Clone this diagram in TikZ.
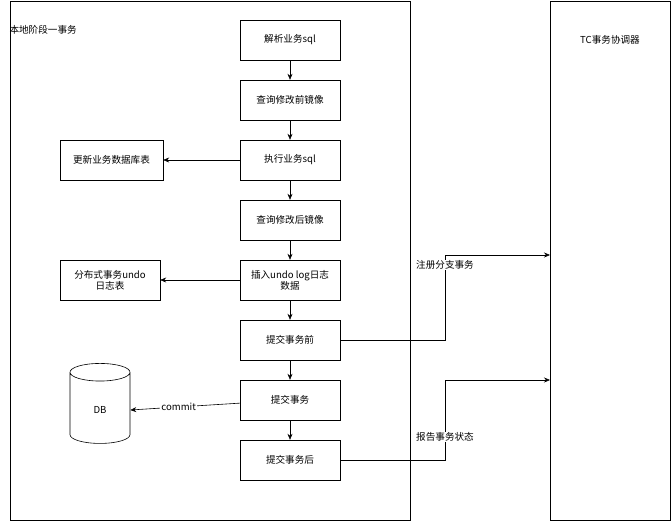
\documentclass[tikz,border=0pt]{standalone}
\usepackage{fontspec}
\setmainfont{Noto Sans CJK SC}
\usetikzlibrary{shapes.geometric,arrows.meta}
\begin{document}
\begin{tikzpicture}[x=1pt,y=-1pt,font=\fontsize{9.6}{11}\selectfont,
  box/.style={draw,minimum width=100pt,minimum height=40pt,align=center,inner sep=1pt},
  arr/.style={-{Stealth[length=6pt,width=5pt]},line width=0.6pt},
  lab/.style={fill=white,inner sep=1pt}]
\useasboundingbox (0,0) rectangle (671,521);
\draw[line width=0.6pt] (10,1) rectangle (410,520);
\draw[line width=0.6pt] (550,1) rectangle (670,520);
\node[anchor=west] (t1) at (6,30) {本地阶段一事务};
\node (t2) at (610,40) {TC事务协调器};
\coordinate (tc1) at (550,255);
\coordinate (tc2) at (550,380);
\node[box] (a) at (290,40) {解析业务sql};
\node[box] (b) at (290,100) {查询修改前镜像};
\node[box] (c) at (290,160) {执行业务sql};
\node[box] (d) at (290,220) {查询修改后镜像};
\node[box] (e) at (290,280) {插入undo log日志\\数据};
\node[box] (f) at (290,340) {提交事务前};
\node[box] (g) at (290,400) {提交事务};
\node[box] (h) at (290,460) {提交事务后};
\node[box,minimum width=103pt] (u) at (111.5,160) {更新业务数据库表};
\node[box] (v) at (110,280) {分布式事务undo\\日志表};
\node[cylinder,shape border rotate=90,draw,aspect=0.9,minimum width=60pt,minimum height=80pt,line width=0.6pt] (db) at (100,410) {DB};
\foreach \p/\q in {a/b,b/c,c/d,d/e,e/f,f/g,g/h} \draw[arr] (\p) -- (\q);
\draw[arr] (c) -- (u);
\draw[arr] (e) -- (v);
\draw[arr] (g) -- (db.east) node[lab,pos=0.6,anchor=west,xshift=-14pt] {commit};
\draw[arr] (f.east) -- (445,340) -- (445,255) -- (tc1);
\draw[arr] (h.east) -- (445,460) -- (445,380) -- (tc2);
\node[lab] (l1) at (445,265) {注册分支事务};
\node[lab] (l2) at (445,437) {报告事务状态};
\end{tikzpicture}
\end{document}
